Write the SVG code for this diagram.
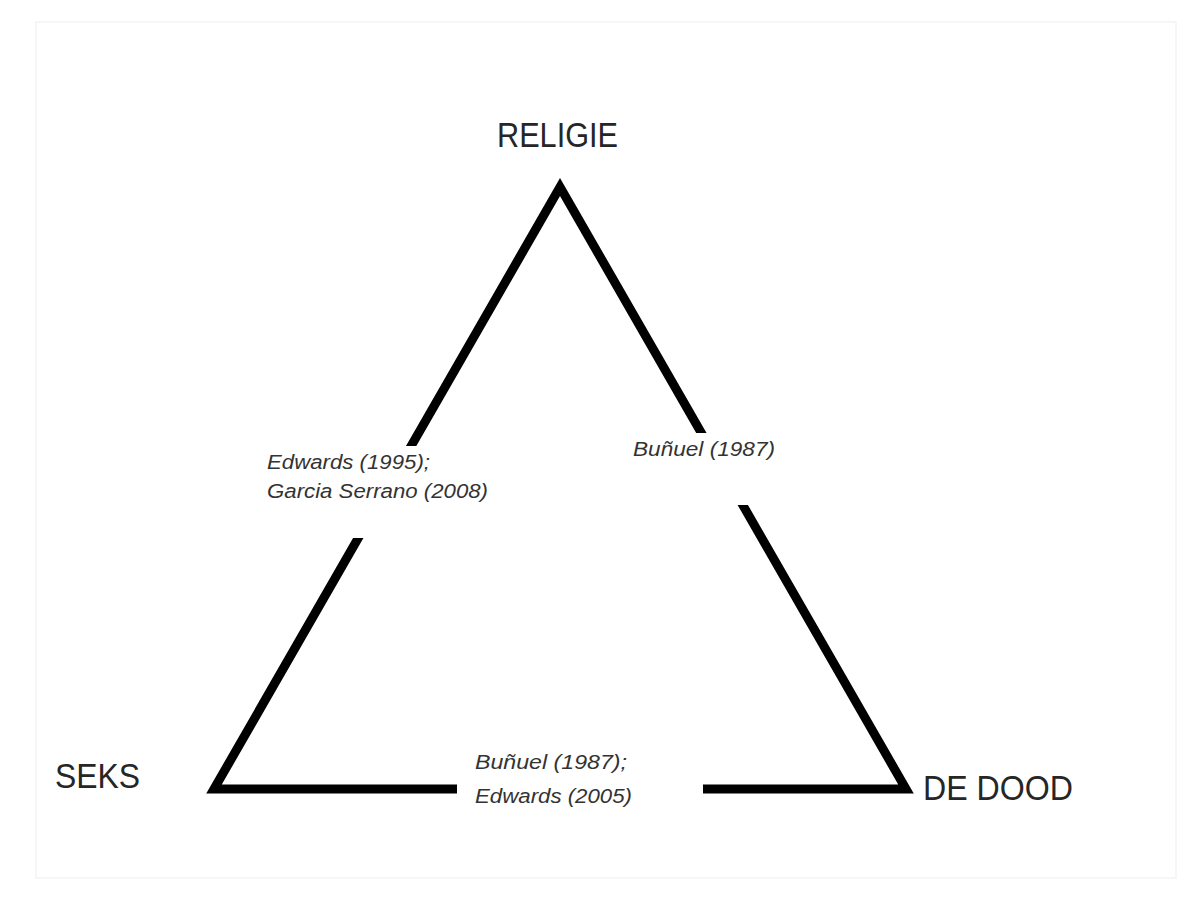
<svg xmlns="http://www.w3.org/2000/svg" width="1194" height="903" viewBox="0 0 1194 903">
<style>
.big{font-family:"Liberation Sans",Arial,sans-serif;font-size:35px;fill:#262626}
.lbl{font-family:"Liberation Sans",Arial,sans-serif;font-size:20px;font-style:italic;fill:#333}
.edge{fill:none;stroke:#000;stroke-width:9;stroke-linejoin:miter;stroke-miterlimit:10}
.mask{fill:#fff}
</style>
<rect x="0" y="0" width="1194" height="903" fill="#fff"/>
<rect x="36" y="22" width="1140" height="856" fill="none" stroke="#f6f6f6" stroke-width="2"/>
<g id="connectors">
<path class="edge" d="M560,187 L906,789 L214,789 Z"/>
</g>
<g id="label-religie-seks">
<rect class="mask" x="255" y="446" width="245" height="92"/>
<text class="lbl" x="267" y="469" textLength="163" lengthAdjust="spacingAndGlyphs">Edwards (1995);</text>
<text class="lbl" x="267" y="498" textLength="221" lengthAdjust="spacingAndGlyphs">Garcia Serrano (2008)</text>
</g>
<g id="label-religie-dood">
<rect class="mask" x="620" y="433" width="170" height="72"/>
<text class="lbl" x="633" y="456" textLength="142" lengthAdjust="spacingAndGlyphs">Buñuel (1987)</text>
</g>
<g id="label-seks-dood">
<rect class="mask" x="457" y="750" width="246" height="64"/>
<text class="lbl" x="475" y="769" textLength="152" lengthAdjust="spacingAndGlyphs">Buñuel (1987);</text>
<text class="lbl" x="475" y="803" textLength="157" lengthAdjust="spacingAndGlyphs">Edwards (2005)</text>
</g>
<g id="node-religie">
<text class="big" x="497" y="147" textLength="121" lengthAdjust="spacingAndGlyphs">RELIGIE</text>
</g>
<g id="node-seks">
<text class="big" x="55" y="788" textLength="85" lengthAdjust="spacingAndGlyphs">SEKS</text>
</g>
<g id="node-dood">
<text class="big" x="923" y="800" textLength="150" lengthAdjust="spacingAndGlyphs">DE DOOD</text>
</g>
</svg>
